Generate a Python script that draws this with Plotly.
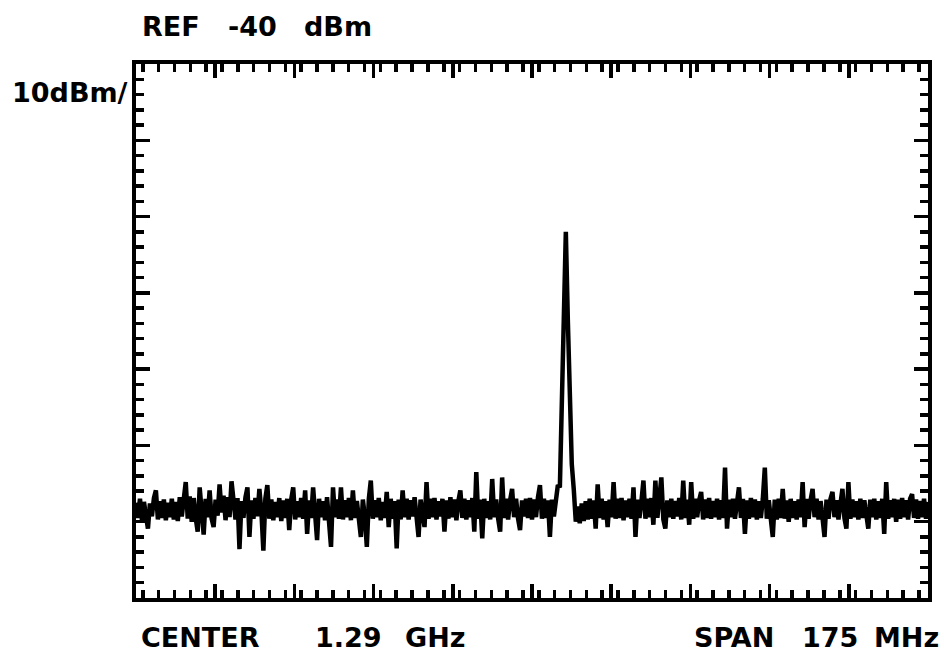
import numpy as np
import plotly.graph_objects as go

# ---- instrument settings ----
center_mhz = 1290.0
span_mhz = 175.0
ref_level_dbm = -40.0
db_per_div = 10.0
n_div_y = 7
n_div_x = 10

# ---- trace (dBm), one value per sweep point ----
level_dbm = [
    -97.5, -99.5, -97.0, -99.8, -97.4, -99.6, -100.9, -97.6, -99.3, -96.9,
    -95.9, -99.7, -97.3, -99.5, -97.1, -99.8, -97.5, -99.4, -97.0, -99.7,
    -97.4, -99.9, -96.8, -99.3, -96.6, -94.8, -99.6, -96.7, -100.0, -96.9,
    -99.5, -101.3, -95.5, -99.7, -101.7, -97.0, -99.4, -95.9, -99.6, -100.7,
    -97.1, -99.2, -95.1, -98.8, -96.6, -99.8, -96.8, -99.4, -94.7, -97.2,
    -99.7, -96.9, -103.6, -97.3, -99.5, -96.8, -95.5, -102.0, -97.2, -99.6,
    -96.9, -99.3, -95.7, -98.6, -103.8, -97.0, -95.2, -99.6, -97.1, -99.8,
    -97.4, -99.4, -96.9, -99.9, -97.2, -99.5, -97.0, -101.1, -97.1, -95.5,
    -99.7, -97.3, -99.4, -96.9, -99.6, -95.9, -101.6, -97.2, -99.5, -95.5,
    -99.7, -102.4, -97.0, -99.4, -97.3, -99.8, -96.8, -99.5, -103.3, -95.5,
    -99.4, -97.1, -99.6, -95.5, -99.7, -97.2, -99.4, -96.9, -99.8, -95.9,
    -99.5, -97.3, -99.7, -102.0, -97.1, -99.3, -103.3, -97.0, -94.6, -99.6,
    -97.2, -99.4, -96.9, -99.8, -97.4, -99.5, -96.1, -100.7, -97.0, -99.6,
    -97.3, -103.5, -97.1, -99.7, -95.9, -99.4, -97.0, -99.7, -97.2, -99.3,
    -96.8, -99.8, -102.0, -97.1, -99.5, -100.7, -94.8, -99.6, -97.0, -99.4,
    -96.9, -99.7, -97.3, -99.3, -97.0, -101.3, -97.2, -99.6, -96.8, -99.4,
    -97.1, -99.8, -97.3, -95.9, -99.5, -97.0, -99.7, -97.2, -99.4, -96.9,
    -101.3, -93.5, -99.6, -97.1, -102.2, -97.0, -99.5, -97.3, -99.7, -94.4,
    -99.4, -97.1, -99.6, -101.3, -94.2, -99.5, -97.0, -99.7, -97.2, -95.7,
    -99.4, -97.0, -99.6, -101.1, -97.2, -99.3, -97.0, -99.5, -96.9, -99.7,
    -97.1, -99.4, -96.8, -95.2, -99.6, -97.0, -99.5, -97.2, -102.0, -97.1,
    -99.3, -96.9, -95.2, -95.5, -85.5, -73.0, -62.0, -73.5, -86.0, -92.5,
    -95.8, -100.0, -98.0, -100.2, -97.6, -99.9, -97.3, -99.7, -97.0, -99.6,
    -97.2, -100.9, -95.1, -99.5, -97.0, -99.7, -97.3, -100.7, -97.1, -99.4,
    -94.8, -99.6, -97.0, -99.5, -96.9, -99.8, -97.2, -99.4, -97.0, -99.6,
    -95.5, -102.0, -97.1, -99.5, -97.3, -94.6, -99.6, -97.0, -99.4, -96.9,
    -100.4, -94.6, -99.5, -97.0, -94.2, -99.7, -100.9, -97.2, -99.4, -97.0,
    -99.6, -97.3, -99.3, -96.9, -99.7, -94.6, -99.5, -97.1, -100.4, -94.8,
    -99.6, -97.0, -99.4, -97.2, -96.1, -99.7, -97.1, -99.5, -96.9, -99.6,
    -97.3, -99.4, -97.0, -99.7, -97.2, -99.5, -92.9, -100.9, -97.1, -99.4,
    -97.0, -99.6, -97.3, -95.5, -99.5, -97.0, -101.6, -97.2, -99.6, -96.9,
    -99.4, -97.1, -99.7, -97.3, -99.5, -97.0, -92.9, -99.6, -97.2, -99.4,
    -102.0, -97.1, -99.7, -97.0, -99.5, -95.7, -99.6, -97.2, -100.0, -97.0,
    -99.5, -97.3, -99.7, -97.1, -99.4, -94.8, -100.7, -97.0, -99.6, -97.2,
    -95.7, -99.4, -97.0, -99.7, -97.3, -99.5, -102.0, -97.1, -99.6, -97.0,
    -96.1, -99.4, -97.2, -99.7, -97.0, -95.7, -99.5, -100.9, -94.8, -99.6,
    -97.1, -99.4, -97.3, -99.7, -97.0, -99.5, -97.2, -99.6, -100.9, -97.1,
    -99.4, -97.0, -99.7, -97.3, -99.5, -97.0, -101.6, -94.8, -99.6, -97.2,
    -99.4, -97.0, -100.0, -97.1, -99.6, -96.9, -99.4, -97.2, -99.7, -97.0,
    -96.4, -99.5, -97.1, -99.6, -97.3, -99.4, -97.0, -99.6, -97.4,
]

# ---- screen annotations ----
ref_words = ["REF", "-40", "dBm"]
scale_word = "10dBm/"
center_words = ["CENTER", "1.29", "GHz"]
span_words = ["SPAN", "175", "MHz"]

start_mhz = center_mhz - span_mhz / 2
stop_mhz = center_mhz + span_mhz / 2
bottom_dbm = ref_level_dbm - n_div_y * db_per_div
freq_mhz = np.linspace(start_mhz, stop_mhz, len(level_dbm))

W, H = 944, 652
L, R, T, B = 136, 928, 64, 598  # plot area in pixels (frame line drawn just outside)


def xp(px):
    return (px - L) / (R - L)


def yp(py):
    return (B - py) / (B - T)


fig = go.Figure()
fig.add_trace(go.Scatter(
    x=freq_mhz, y=level_dbm, mode="lines",
    line=dict(color="black", width=4.5),
    hoverinfo="skip", showlegend=False,
))

axis_common = dict(
    showgrid=False, zeroline=False, showticklabels=False,
    showline=True, linecolor="black", linewidth=4, mirror="allticks",
    ticks="inside", ticklen=14, tickwidth=3.5, tickcolor="black",
)

fig.update_xaxes(
    range=[start_mhz, stop_mhz],
    tick0=start_mhz, dtick=span_mhz / n_div_x,
    minor=dict(ticks="inside", ticklen=8, tickwidth=3.5, tickcolor="black",
               dtick=span_mhz / n_div_x / 5, showgrid=False),
    **axis_common,
)
fig.update_yaxes(
    range=[bottom_dbm, ref_level_dbm],
    tick0=bottom_dbm, dtick=db_per_div,
    minor=dict(ticks="inside", ticklen=8, tickwidth=3.5, tickcolor="black",
               dtick=db_per_div / 5, showgrid=False),
    **axis_common,
)

font = dict(family="DejaVu Sans", size=27, color="black", weight="bold")
annotations = []
word_pos = [
    (ref_words[0], 171, 27), (ref_words[1], 252, 27), (ref_words[2], 338, 27),
    (scale_word, 70, 92),
    (center_words[0], 200, 637), (center_words[1], 348, 637), (center_words[2], 435, 637),
    (span_words[0], 734, 637), (span_words[1], 830, 637), (span_words[2], 906, 637),
]
for text, cx, cy in word_pos:
    annotations.append(dict(
        text=text, x=xp(cx), y=yp(cy), xref="paper", yref="paper",
        xanchor="center", yanchor="middle", showarrow=False, font=font,
    ))

fig.update_layout(
    width=W, height=H,
    margin=dict(l=L, r=W - R, t=T, b=H - B, pad=0),
    paper_bgcolor="white", plot_bgcolor="white",
    annotations=annotations,
    showlegend=False,
)

fig.write_html(
    "out.html",
    config={"displayModeBar": False, "staticPlot": True},
    post_script="document.body.style.margin='0';document.body.style.overflow='hidden';",
)
